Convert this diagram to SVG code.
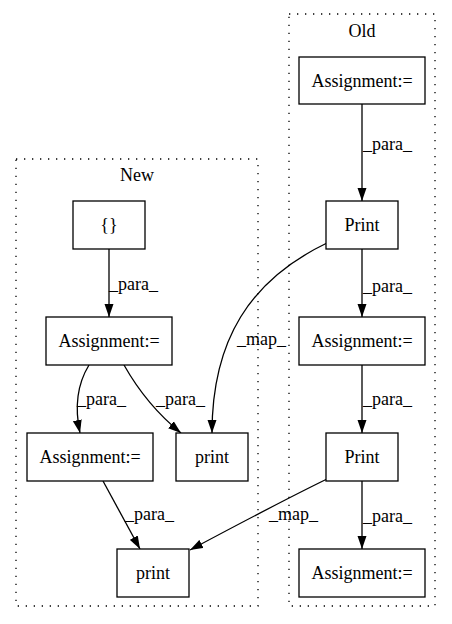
<svg xmlns="http://www.w3.org/2000/svg" width="452" height="624" viewBox="0 0 452 624">
<style>
text{font-family:'Liberation Serif','DejaVu Serif',serif;font-size:18px;fill:#000}
.c{text-anchor:middle}
.cl{fill:none;stroke:#000;stroke-width:1.3;stroke-dasharray:1.3,6.7}
.n rect{fill:#fff;stroke:#000;stroke-width:1.3}
.e path{fill:none;stroke:#000;stroke-width:1.3;marker-end:url(#ah)}
</style>
<defs>
<marker id="ah" markerUnits="userSpaceOnUse" markerWidth="14" markerHeight="10" refX="13" refY="5" orient="auto">
<path d="M0,0.5 L13,5 L0,9.5 z" fill="#000"/>
</marker>
</defs>
<rect width="452" height="624" fill="#fff"/>
<g font-family="Liberation Serif, DejaVu Serif, serif">
<g id="cluster_new">
<rect class="cl" x="16" y="159" width="242" height="447"/>
<text class="c" x="137" y="181">New</text>
</g>
<g id="cluster_old">
<rect class="cl" x="289" y="14" width="146" height="592"/>
<text class="c" x="362" y="37">Old</text>
</g>
<g id="edges" class="e">
<path d="M362,104 L362,201"/>
<path d="M362,249 L362,317"/>
<path d="M362,365 L362,433"/>
<path d="M362,481 L362,549"/>
<path d="M109,249 L109,317"/>
<path d="M89,365 C78,383 74,405 80,433"/>
<path d="M124,365 C137,388 155,412 181,433"/>
<path d="M103,481 L140,549"/>
<path d="M327,243 C250,280 212,340 212,433"/>
<path d="M327,479 C290,497 235,526 190,550"/>
</g>
<g id="edge_labels">
<text x="363" y="150">_para_</text>
<text x="363" y="292">_para_</text>
<text x="363" y="405">_para_</text>
<text x="363" y="522">_para_</text>
<text x="109" y="290">_para_</text>
<text x="77" y="405">_para_</text>
<text x="156" y="405">_para_</text>
<text x="125" y="520">_para_</text>
<text x="237" y="345">_map_</text>
<text x="269" y="520">_map_</text>
</g>
<g id="old_assign1" class="n"><rect x="299" y="57" width="126" height="47"/><text class="c" x="362" y="87">Assignment:=</text></g>
<g id="old_print1" class="n"><rect x="326" y="201" width="72" height="48"/><text class="c" x="362" y="231">Print</text></g>
<g id="old_assign2" class="n"><rect x="299" y="317" width="126" height="48"/><text class="c" x="362" y="347">Assignment:=</text></g>
<g id="old_print2" class="n"><rect x="326" y="433" width="72" height="48"/><text class="c" x="362" y="463">Print</text></g>
<g id="old_assign3" class="n"><rect x="299" y="549" width="126" height="48"/><text class="c" x="362" y="579">Assignment:=</text></g>
<g id="new_braces" class="n"><rect x="73" y="201" width="72" height="48"/><text class="c" x="109" y="231">{}</text></g>
<g id="new_assign1" class="n"><rect x="46" y="317" width="126" height="48"/><text class="c" x="109" y="347">Assignment:=</text></g>
<g id="new_assign2" class="n"><rect x="27" y="433" width="126" height="48"/><text class="c" x="90" y="463">Assignment:=</text></g>
<g id="new_print1" class="n"><rect x="176" y="433" width="72" height="48"/><text class="c" x="212" y="463">print</text></g>
<g id="new_print2" class="n"><rect x="117" y="549" width="72" height="48"/><text class="c" x="153" y="579">print</text></g>
</g>
</svg>
